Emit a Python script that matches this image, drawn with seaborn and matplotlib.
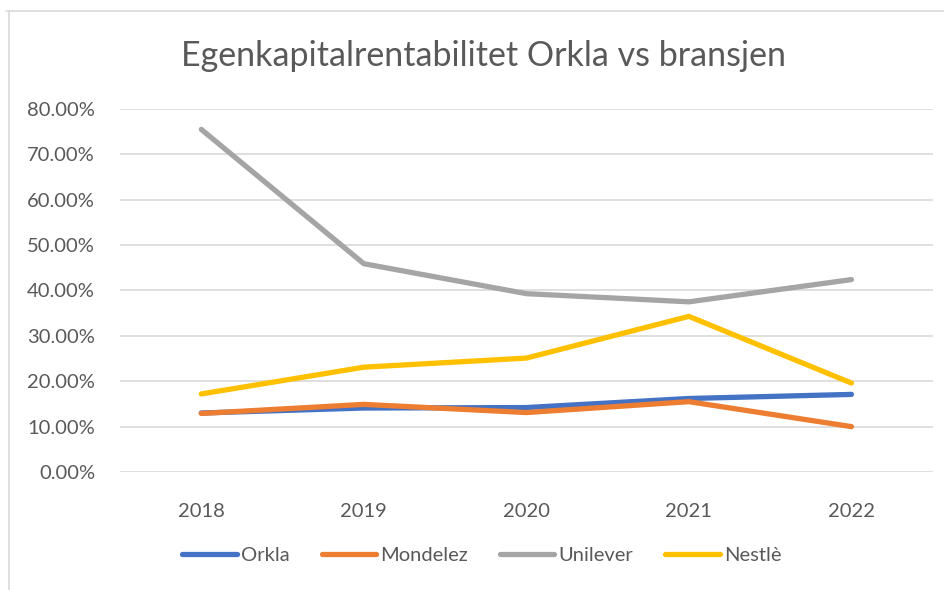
import pandas as pd
import matplotlib.pyplot as plt
import matplotlib.lines as mlines
import seaborn as sns
from matplotlib.ticker import FuncFormatter

years = [2018, 2019, 2020, 2021, 2022]
orkla = [0.130, 0.141, 0.142, 0.162, 0.171]
mondelez = [0.129, 0.149, 0.131, 0.155, 0.100]
unilever = [0.755, 0.459, 0.393, 0.375, 0.424]
nestle = [0.172, 0.231, 0.251, 0.343, 0.196]

series = ['Orkla', 'Mondelez', 'Unilever', 'Nestlè']
colors = ['#4472C4', '#ED7D31', '#A5A5A5', '#FFC000']

df = pd.DataFrame({'År': years, 'Orkla': orkla, 'Mondelez': mondelez,
                   'Unilever': unilever, 'Nestlè': nestle})
long = df.melt(id_vars='År', var_name='Selskap', value_name='EK')

sns.set_style('white')
plt.rcParams['font.family'] = ['Lato', 'DejaVu Sans']
txt = '#595959'

fig = plt.figure(figsize=(9.45, 5.9), dpi=100)
ax = fig.add_axes([0.127, 0.2, 0.86, 0.6153])

sns.lineplot(data=long, x='År', y='EK', hue='Selskap', hue_order=series,
             palette=colors, linewidth=3.8, ax=ax, legend=False,
             solid_capstyle='round')

ax.set_xlim(2017.5, 2022.5)
ax.set_ylim(0, 0.8)
ax.set_yticks([i / 10 for i in range(9)])
ax.yaxis.set_major_formatter(FuncFormatter(lambda v, p: f'{v * 100:.2f}%'))
ax.set_xticks(years)
ax.grid(axis='y', color='#D9D9D9', linewidth=1.2)
ax.set_xlabel('')
ax.set_ylabel('')
for s in ax.spines.values():
    s.set_visible(False)
ax.tick_params(axis='both', length=0, labelsize=14.5, labelcolor=txt)
ax.tick_params(axis='y', pad=18)
ax.tick_params(axis='x', pad=22)

fig.text(0.512, 0.905, 'Egenkapitalrentabilitet Orkla vs bransjen',
         ha='center', va='center', fontsize=24.5, color=txt)

handles = [mlines.Line2D([], [], color=c, linewidth=3.8, solid_capstyle='round')
           for c in colors]
fig.legend(handles, series, loc='center', bbox_to_anchor=(0.51, 0.058), ncol=4,
           frameon=False, fontsize=14.5, labelcolor=txt, handlelength=2.7,
           handletextpad=0.2, columnspacing=1.6)

# chart border (top and left edges visible)
fig.add_artist(mlines.Line2D([0.006, 1.0], [0.982, 0.982], color='#D9D9D9', linewidth=1.2))
fig.add_artist(mlines.Line2D([0.009, 0.009], [0.0, 0.982], color='#D9D9D9', linewidth=1.2))

fig.savefig('out.png', dpi=100)
